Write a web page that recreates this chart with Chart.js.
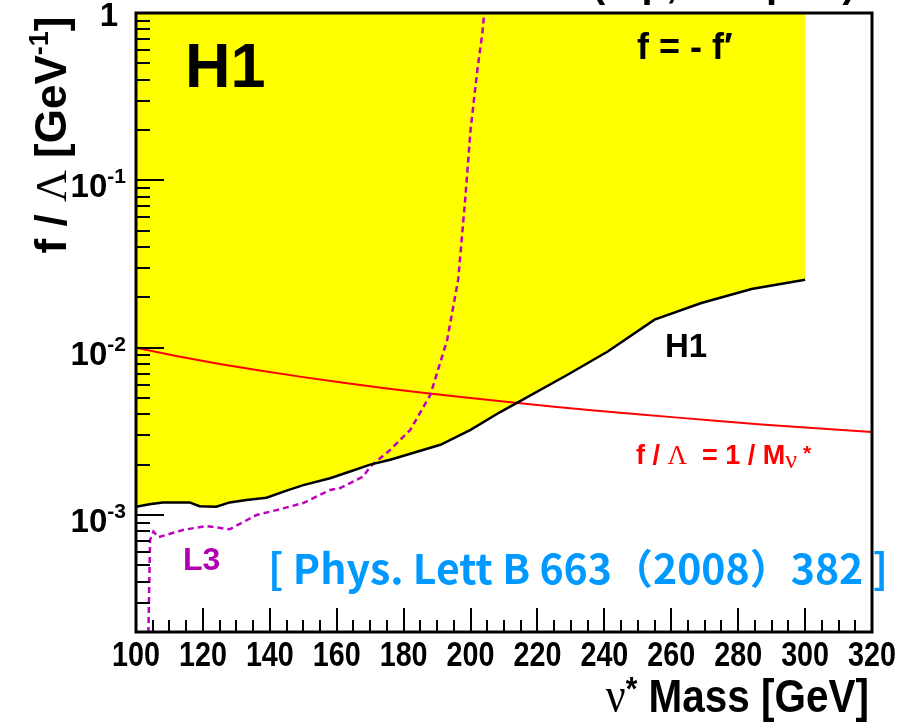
<!DOCTYPE html>
<html><head><meta charset="utf-8">
<script src="https://cdn.jsdelivr.net/npm/chart.js@4"></script>
<style>html,body{margin:0;padding:0;background:#fff}#wrap{width:912px;height:724px;position:relative}</style>
</head><body><div id="wrap"><canvas id="c"></canvas></div>
<script>
// ---- data ----
const xTickValues = [100, 120, 140, 160, 180, 200, 220, 240, 260, 280, 300, 320];
const xTickLabels = ['100','120','140','160','180','200','220','240','260','280','300','320'];
const yTickValues = [1, 0.1, 0.01, 0.001];
const yTickExponents = ['', '-1', '-2', '-3'];

const h1Mass  = [100, 104, 108, 116, 119, 124, 128, 133, 139, 145, 150, 158, 164, 170, 176, 184, 191, 200, 209, 214, 229, 241, 255, 269, 284, 300];
const h1Limit = [1.12e-3, 1.16e-3, 1.19e-3, 1.19e-3, 1.13e-3, 1.12e-3, 1.19e-3, 1.23e-3, 1.27e-3, 1.40e-3, 1.51e-3, 1.66e-3, 1.82e-3, 2.00e-3, 2.14e-3, 2.39e-3, 2.63e-3, 3.23e-3, 4.14e-3, 4.70e-3, 6.89e-3, 9.49e-3, 0.0147, 0.0185, 0.0224, 0.0255];

const l3Mass  = [103.6, 104.2, 105.2, 106.7, 114, 121, 128, 136, 142, 150, 158, 161, 168, 170, 176, 182, 188, 193, 196.3, 198.4, 200, 202, 203.5, 204.1, 204.2];
const l3Limit = [1.5e-4, 7.1e-4, 7.96e-4, 7.37e-4, 8.14e-4, 8.6e-4, 8.22e-4, 1.0e-3, 1.07e-3, 1.18e-3, 1.41e-3, 1.45e-3, 1.70e-3, 1.95e-3, 2.45e-3, 3.23e-3, 5.23e-3, 0.0111, 0.0255, 0.0767, 0.2, 0.45, 0.75, 1.0, 1.2];

const refMass     = [100, 112, 125, 137, 150, 162, 175, 187, 200, 212, 225, 237, 250, 262, 275, 287, 300, 310, 320];
const refCoupling = [0.0100, 0.00893, 0.00800, 0.00730, 0.00667, 0.00617, 0.00571, 0.00535, 0.00500, 0.00472, 0.00444, 0.00422, 0.00400, 0.00382, 0.00364, 0.00348, 0.00333, 0.00323, 0.00313];

// ---- helpers ----
const SANS = "'Liberation Sans', Arial, Helvetica, sans-serif";
const SERIF = "'Liberation Serif', 'DejaVu Serif', serif";
const toPts = (xs, ys) => xs.map((x, i) => ({x, y: ys[i]}));

// draws a run of text pieces; sx = horizontal condensing factor
function rich(ctx, parts, x, y, align, sx) {
  sx = sx || 1;
  let w = 0;
  for (const p of parts) { ctx.font = p.f; p.w = ctx.measureText(p.t).width; w += p.w; }
  w *= sx;
  let cx = align === 'right' ? x - w : align === 'center' ? x - w / 2 : x;
  ctx.save();
  ctx.translate(cx, y);
  ctx.scale(sx, 1);
  let ox = 0;
  for (const p of parts) {
    ctx.font = p.f;
    if (p.c) ctx.fillStyle = p.c;
    ctx.fillText(p.t, ox, (p.dy || 0));
    ox += p.w;
  }
  ctx.restore();
}

const overlay = {
  id: 'overlay',
  afterDraw(chart) {
    const ctx = chart.ctx, a = chart.chartArea;
    const xs = chart.scales.x, ys = chart.scales.y;
    ctx.save();
    ctx.strokeStyle = '#000';
    ctx.lineWidth = 2;
    // x ticks (inward)
    for (let v = xs.min; v <= xs.max + 1e-9; v += 5) {
      const px = Math.round(xs.getPixelForValue(v));
      const len = (v % 20 === 0) ? 24 : 12;
      ctx.beginPath(); ctx.moveTo(px, a.bottom); ctx.lineTo(px, a.bottom - len); ctx.stroke();
    }
    // y ticks (inward)
    for (let d = -4; d <= 0; d++) {
      for (let m = 1; m <= 9; m++) {
        const v = m * Math.pow(10, d);
        if (v < ys.min * 0.999 || v > ys.max * 1.001) continue;
        const py = Math.round(ys.getPixelForValue(v));
        const len = m === 1 ? 28 : 14;
        ctx.beginPath(); ctx.moveTo(a.left, py); ctx.lineTo(a.left + len, py); ctx.stroke();
      }
    }
    // frame
    ctx.lineWidth = 3;
    ctx.strokeRect(a.left, a.top, a.right - a.left, a.bottom - a.top);

    ctx.textAlign = 'left';
    ctx.textBaseline = 'alphabetic';
    ctx.fillStyle = '#000';
    // x tick labels (condensed bold)
    xTickValues.forEach((v, i) => {
      rich(ctx, [{t: xTickLabels[i], f: 'bold 35px ' + SANS}], xs.getPixelForValue(v), a.bottom + 34, 'center', 0.82);
    });
    // y tick labels
    yTickValues.forEach((v, i) => {
      const py = ys.getPixelForValue(v);
      if (yTickExponents[i] === '') {
        rich(ctx, [{t: '1', f: 'bold 33px ' + SANS}], a.left - 18, py + 13, 'right');
      } else {
        rich(ctx, [{t: '10', f: 'bold 33px ' + SANS}, {t: yTickExponents[i], f: 'bold 21px ' + SANS, dy: -14}], a.left - 10, py + 17, 'right');
      }
    });

    // partial title cut at the top
    rich(ctx, [{t: '(e', f: 'bold 40px ' + SANS}, {t: '\u2212', f: 'bold 24px ' + SANS, dy: -14}, {t: 'p, 184 pb', f: 'bold 40px ' + SANS}, {t: '\u22121', f: 'bold 24px ' + SANS, dy: -14}, {t: ')', f: 'bold 40px ' + SANS}], 592, -3, 'left');

    // big H1
    rich(ctx, [{t: 'H1', f: 'bold 63px ' + SANS}], a.left + 49, a.top + 74, 'left');
    // f = - f'
    rich(ctx, [{t: 'f = - f\u2032', f: 'bold 36px ' + SANS}], 637, 59, 'left');
    // H1 curve label
    rich(ctx, [{t: 'H1', f: 'bold 33px ' + SANS}], 665, 357, 'left');
    // red formula
    ctx.fillStyle = '#ff0000';
    rich(ctx, [
      {t: 'f / ', f: 'bold 27px ' + SANS},
      {t: '\u039B', f: '27px ' + SERIF},
      {t: '  = 1 / M', f: 'bold 27px ' + SANS},
      {t: '\u03BD', f: '26px ' + SERIF, dy: 4},
      {t: ' *', f: 'bold 21px ' + SANS, dy: -4}
    ], 636, 464, 'left');
    // L3 label
    ctx.fillStyle = '#b000b0';
    rich(ctx, [{t: 'L3', f: 'bold 32px ' + SANS}], 183, 570, 'left');
    // reference
    ctx.fillStyle = '#0099ff';
    rich(ctx, [{t: '[ Phys. Lett B 663\uFF082008\uFF09382 ]', f: "bold 41px 'Noto Sans CJK JP', " + SANS}], 268, 584, 'left');

    // x title
    ctx.fillStyle = '#000';
    rich(ctx, [
      {t: '\u03BD', f: '50px ' + SERIF},
      {t: '*', f: 'bold 34px ' + SANS, dy: -12},
      {t: ' Mass [GeV]', f: 'bold 46px ' + SANS}
    ], 869, 712, 'right', 0.88);

    // y title (rotated)
    ctx.save();
    ctx.translate(66, 135);
    ctx.rotate(-Math.PI / 2);
    rich(ctx, [
      {t: 'f / ', f: 'bold 44px ' + SANS},
      {t: '\u039B', f: '44px ' + SERIF},
      {t: ' [GeV', f: 'bold 44px ' + SANS},
      {t: '-1', f: 'bold 27px ' + SANS, dy: -18},
      {t: ']', f: 'bold 44px ' + SANS}
    ], 0, 0, 'center');
    ctx.restore();
    ctx.restore();
  }
};

new Chart(document.getElementById('c'), {
  type: 'line',
  data: {
    datasets: [
      {label: 'H1', data: toPts(h1Mass, h1Limit), borderColor: '#000', borderWidth: 2.5, backgroundColor: '#ffff00', fill: 'end', pointRadius: 0, tension: 0},
      {label: 'L3', data: toPts(l3Mass, l3Limit), borderColor: '#c000c0', borderWidth: 2.5, borderDash: [6, 4], fill: false, pointRadius: 0, tension: 0},
      {label: '1/M', data: toPts(refMass, refCoupling), borderColor: '#ff0000', borderWidth: 2, fill: false, pointRadius: 0, tension: 0}
    ]
  },
  options: {
    responsive: true, maintainAspectRatio: false, animation: false,
    layout: {padding: {left: 0, top: 13, right: 40, bottom: 0}},
    plugins: {legend: {display: false}, tooltip: {enabled: false}, filler: {drawTime: 'beforeDatasetsDraw'}},
    scales: {
      x: {
        type: 'linear', min: 100, max: 320,
        grid: {display: false, drawTicks: false}, border: {display: false},
        ticks: {display: false, stepSize: 20},
        afterFit(s) { s.height = 92; s.paddingLeft = 0; s.paddingRight = 0; }
      },
      y: {
        type: 'logarithmic', min: 2e-4, max: 1,
        grid: {display: false, drawTicks: false}, border: {display: false},
        ticks: {display: false},
        afterFit(s) { s.width = 136; s.paddingTop = 0; s.paddingBottom = 0; }
      }
    }
  },
  plugins: [overlay]
});
</script>
</body></html>
